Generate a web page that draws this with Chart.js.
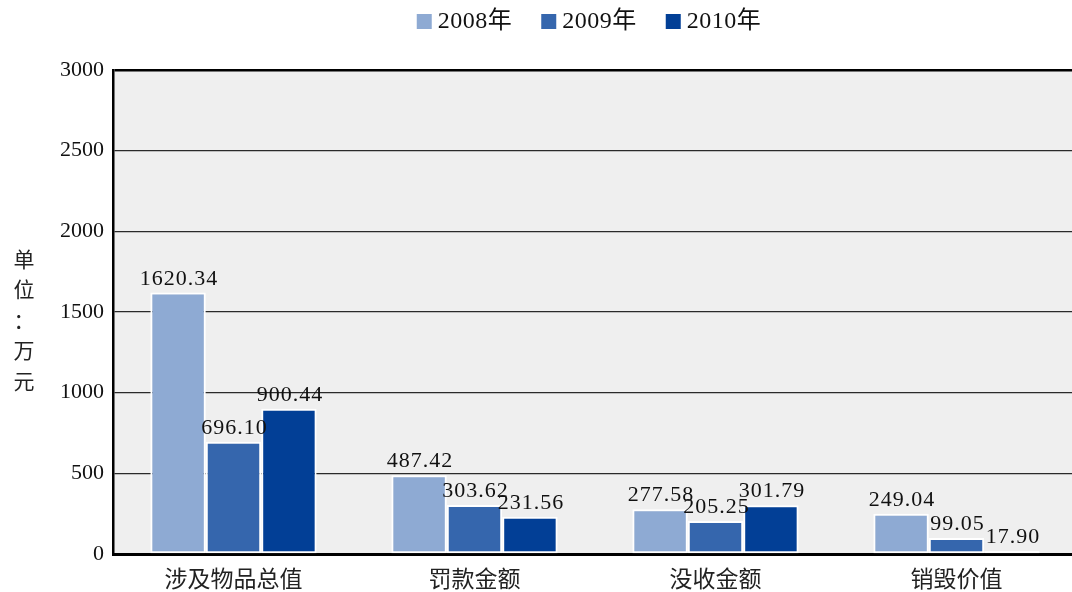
<!DOCTYPE html>
<html>
<head>
<meta charset="utf-8">
<script src="https://cdn.jsdelivr.net/npm/chart.js@4.4.0/dist/chart.umd.min.js"></script>
<style>
  html, body { margin: 0; padding: 0; background: #fff; overflow: hidden; }
  #wrap { position: relative; width: 1078px; height: 592px; }
</style>
</head>
<body>
<div id="wrap"><canvas id="finesChart"></canvas></div>
<script>
const categories = ['涉及物品总值', '罚款金额', '没收金额', '销毁价值'];
const years = ['2008年', '2009年', '2010年'];
const values2008 = [1620.34, 487.42, 277.58, 249.04];
const values2009 = [696.10, 303.62, 205.25, 99.05];
const values2010 = [900.44, 231.56, 301.79, 17.90];
const yTicks = [0, 500, 1000, 1500, 2000, 2500, 3000];
const unitLabel = ['单', '位', '：', '万', '元'];

const serif = '"Liberation Serif", "Times New Roman", "Noto Sans CJK SC", serif';
const cjk = '"Noto Sans CJK SC", serif';
const colors = ['#8eaad3', '#3566ad', '#023f96'];

// grey plot background
const plotBackground = {
    id: 'plotBackground',
    beforeDraw(chart) {
        const a = chart.chartArea;
        const ctx = chart.ctx;
        ctx.save();
        ctx.fillStyle = '#efefef';
        ctx.fillRect(a.left, a.top, a.right - a.left, a.bottom - a.top);
        ctx.restore();
    }
};

// value labels above each bar
const barValues = {
    id: 'barValues',
    afterDatasetsDraw(chart) {
        const ctx = chart.ctx;
        ctx.save();
        ctx.font = '22px ' + serif;
        ctx.letterSpacing = '1px';
        ctx.fillStyle = '#111';
        ctx.textAlign = 'center';
        ctx.textBaseline = 'alphabetic';
        chart.data.datasets.forEach((ds, i) => {
            chart.getDatasetMeta(i).data.forEach((bar, j) => {
                ctx.fillText(ds.data[j].toFixed(2), bar.x + 1, bar.y - 8);
            });
        });
        ctx.restore();
    }
};

// unit label, one character per line, and the legend row
const extras = {
    id: 'extras',
    afterDraw(chart) {
        const ctx = chart.ctx;
        const a = chart.chartArea;
        ctx.save();
        ctx.font = '21px ' + cjk;
        ctx.fillStyle = '#222';
        ctx.textAlign = 'center';
        ctx.textBaseline = 'middle';
        unitLabel.forEach((ch, i) => {
            ctx.fillText(ch, 24, 259 + i * 30.5);
        });

        // legend
        ctx.font = '24px ' + serif;
        ctx.letterSpacing = '0.5px';
        ctx.textAlign = 'left';
        const box = 15, gap = 6, spacing = 29;
        const widths = years.map(t => box + gap + ctx.measureText(t).width);
        const total = widths.reduce((s, w) => s + w, 0) + spacing * (years.length - 1);
        let x = (a.left + a.right) / 2 - total / 2 - 6;
        years.forEach((t, i) => {
            ctx.fillStyle = colors[i];
            ctx.fillRect(x, 14, box, box);
            ctx.fillStyle = '#111';
            ctx.fillText(t, x + box + gap, 22);
            x += widths[i] + spacing;
        });
        ctx.restore();
    }
};

const ctx = document.getElementById('finesChart').getContext('2d');
new Chart(ctx, {
    type: 'bar',
    data: {
        labels: categories,
        datasets: [values2008, values2009, values2010].map((vals, i) => ({
            label: years[i],
            data: vals,
            backgroundColor: colors[i],
            borderColor: '#ffffff',
            borderWidth: 2,
            borderSkipped: false,
            barPercentage: 1,
            categoryPercentage: 0.69
        }))
    },
    options: {
        responsive: true,
        maintainAspectRatio: false,
        animation: false,
        layout: { padding: { top: 70, right: 1, left: 0, bottom: 0 } },
        plugins: {
            legend: { display: false },
            tooltip: { enabled: false }
        },
        scales: {
            x: {
                afterFit(scale) {
                    scale.height = 38;
                },
                grid: { display: false, drawTicks: false },
                border: { color: '#000', width: 3 },
                ticks: {
                    font: { family: cjk, size: 23 },
                    color: '#222',
                    padding: 10
                }
            },
            y: {
                min: 0,
                max: 3000,
                afterBuildTicks(scale) {
                    scale.ticks = yTicks.map(v => ({ value: v }));
                },
                afterFit(scale) {
                    scale.width = 113;
                },
                grid: {
                    drawTicks: false,
                    color: c => c.tick && c.tick.value === 3000 ? '#000' : '#2a2a2a',
                    lineWidth: c => c.tick && c.tick.value === 3000 ? 2.5 : 1.3
                },
                border: { color: '#000', width: 2.5 },
                ticks: {
                    font: { family: serif, size: 22 },
                    color: '#111',
                    padding: 9,
                    callback: v => String(v)
                }
            }
        }
    },
    plugins: [plotBackground, barValues, extras]
});
</script>
</body>
</html>
